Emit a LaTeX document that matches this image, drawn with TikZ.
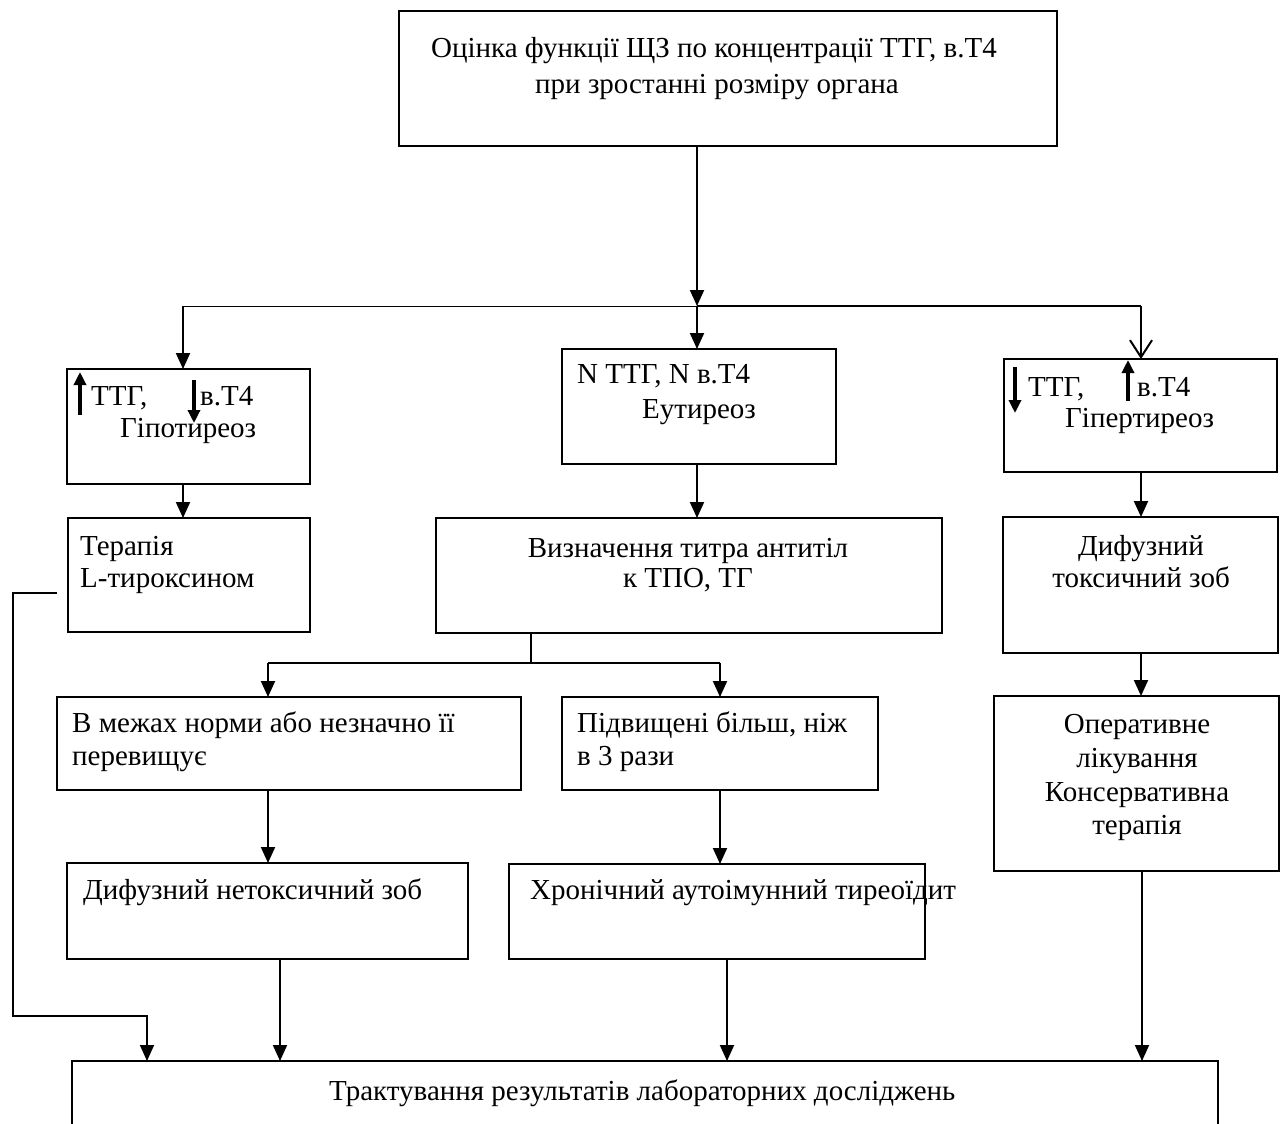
\documentclass[tikz,border=0pt]{standalone}
\usepackage{fontspec}
\setmainfont{Liberation Serif}
\usetikzlibrary{arrows.meta}
\begin{document}
\begin{tikzpicture}[x=1pt,y=-1pt]
\tikzset{
  box/.style={draw, line width=2pt, inner sep=0pt, outer sep=0pt, anchor=north west},
  conn/.style={line width=2pt},
  thinconn/.style={line width=1pt},
  arr/.style={conn, -{Triangle[length=16pt,width=14pt]}},
  openarr/.style={conn, -{Straight Barb[length=17pt,width=22pt,line width=2pt]}},
  symarrow/.style={line width=3.5pt, -{Triangle[length=13pt,width=12pt]}},
  txt/.style={inner sep=0pt, anchor=base west, font=\fontsize{29}{34}\selectfont},
  ctxt/.style={txt, anchor=base},
}
\useasboundingbox (0,0) rectangle (1280,1124);
\clip (0,0) rectangle (1280,1124);
\fill[white] (0,0) rectangle (1280,1124);

% ---- boxes ----
\node[box, minimum width=658pt, minimum height=135pt] (top) at (399,11) {};
\node[box, minimum width=243pt, minimum height=115pt] (hypo) at (67,369) {};
\node[box, minimum width=274pt, minimum height=115pt] (euthy) at (562,349) {};
\node[box, minimum width=273pt, minimum height=113pt] (hyper) at (1004,359) {};
\node[box, minimum width=242pt, minimum height=114pt] (therapy) at (68,518) {};
\node[box, minimum width=506pt, minimum height=115pt] (vyzn) at (436,518) {};
\node[box, minimum width=275pt, minimum height=136pt] (dtz) at (1003,517) {};
\node[box, minimum width=285pt, minimum height=175pt] (oper) at (994,696) {};
\node[box, minimum width=464pt, minimum height=93pt] (norm) at (57,697) {};
\node[box, minimum width=316pt, minimum height=93pt] (pidv) at (562,697) {};
\node[box, minimum width=401pt, minimum height=96pt] (dnz) at (67,863) {};
\node[box, minimum width=416pt, minimum height=95pt] (hron) at (509,864) {};
\node[box, minimum width=1146pt, minimum height=100pt] (bottom) at (72,1061) {};

% ---- texts ----
\node[ctxt] (topa) at (714,58) {Оцінка функції ЩЗ по концентрації ТТГ, в.Т4};
\node[ctxt] (topb) at (717,93) {при зростанні розміру органа};

\node[txt] (hypoa) at (91,405) {ТТГ,};
\node[txt] (hypob) at (200,405) {в.Т4};
\node[txt] (hypoc) at (120,437) {Гіпотиреоз};
\coordinate (hu1) at (80,415); \coordinate (hu2) at (80,372);
\coordinate (hd1) at (194,380); \coordinate (hd2) at (194,423);
\draw[symarrow] (hu1) -- (hu2);
\draw[symarrow] (hd1) -- (hd2);

\node[txt] (euthya) at (577,383) {N ТТГ, N в.Т4};
\node[txt] (euthyb) at (642,418) {Еутиреоз};

\node[txt] (hypera) at (1028,396) {ТТГ,};
\node[txt] (hyperb) at (1137,396) {в.Т4};
\node[txt] (hyperc) at (1065,427) {Гіпертиреоз};
\coordinate (rd1) at (1015,367); \coordinate (rd2) at (1015,413);
\coordinate (ru1) at (1128,401); \coordinate (ru2) at (1128,360);
\draw[symarrow] (rd1) -- (rd2);
\draw[symarrow] (ru1) -- (ru2);

\node[txt] (thera) at (80,555) {Терапія};
\node[txt] (therb) at (80,587) {L-тироксином};

\node[ctxt] (vyzna) at (688,557) {Визначення титра антитіл};
\node[ctxt] (vyznb) at (688,587) {к ТПО, ТГ};

\node[ctxt] (dtza) at (1141,555) {Дифузний};
\node[ctxt] (dtzb) at (1141,587) {токсичний зоб};

\node[ctxt] (opera) at (1137,733) {Оперативне};
\node[ctxt] (operb) at (1137,767) {лікування};
\node[ctxt] (operc) at (1137,801) {Консервативна};
\node[ctxt] (operd) at (1137,834) {терапія};

\node[txt] (norma) at (72,732) {В межах норми або незначно її};
\node[txt] (normb) at (72,765) {перевищує};

\node[txt] (pidva) at (577,732) {Підвищені більш, ніж};
\node[txt] (pidvb) at (577,765) {в 3 рази};

\node[txt] (dnzt) at (83,899) {Дифузний нетоксичний зоб};
\node[txt] (hront) at (530,899) {Хронічний аутоімунний тиреоїдит};

\node[txt] (bott) at (329,1100) {Трактування результатів лабораторних досліджень};

% ---- connectors ----
\coordinate (split) at (697,306);
\coordinate (jl) at (183,306);
\coordinate (jr) at (1141,306);
\draw[arr] (top.south -| split) -- (split);
\draw[thinconn] (split) -- (jl);
\draw[conn] (split) -- (jr);
\draw[arr] (jl) -- (jl |- hypo.north);
\draw[arr] (split) -- (split |- euthy.north);
\draw[openarr] (jr) -- (jr |- hyper.north);

\draw[arr] (jl |- hypo.south) -- (jl |- therapy.north);
\draw[arr] (split |- euthy.south) -- (split |- vyzn.north);
\draw[arr] (jr |- hyper.south) -- (jr |- dtz.north);
\draw[arr] (jr |- dtz.south) -- (jr |- oper.north);

\coordinate (vs) at (531,663);
\coordinate (vl) at (268,663);
\coordinate (vr) at (720,663);
\draw[conn] (vs |- vyzn.south) -- (vs);
\draw[conn] (vl) -- (vr);
\draw[arr] (vl) -- (vl |- norm.north);
\draw[arr] (vr) -- (vr |- pidv.north);
\draw[arr] (vl |- norm.south) -- (vl |- dnz.north);
\draw[arr] (vr |- pidv.south) -- (vr |- hron.north);

\coordinate (b1) at (280,1000);
\coordinate (b2) at (727,1000);
\coordinate (b3) at (1142,1000);
\draw[arr] (b1 |- dnz.south) -- (b1 |- bottom.north);
\draw[arr] (b2 |- hron.south) -- (b2 |- bottom.north);
\draw[arr] (b3 |- oper.south) -- (b3 |- bottom.north);

\coordinate (ls) at (57,593);
\coordinate (lb) at (147,1016);
\draw[line width=1.5pt, -{Triangle[length=16pt,width=14pt]}]
  (ls) -- ++(-44,0) |- (lb) -- (lb |- bottom.north);
\end{tikzpicture}
\end{document}
